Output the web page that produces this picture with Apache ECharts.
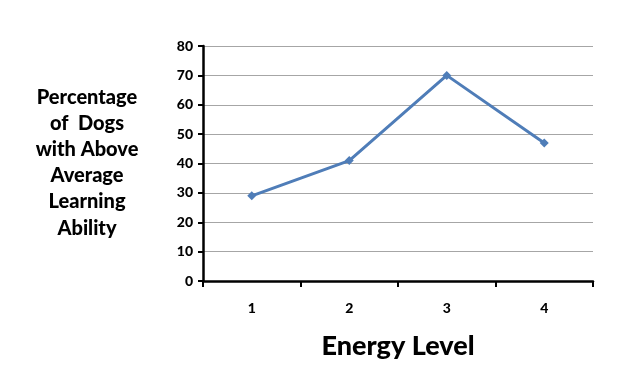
<!DOCTYPE html>
<html><head><meta charset="utf-8">
<script src="https://cdn.jsdelivr.net/npm/echarts@6/dist/echarts.min.js"></script>
<style>html,body{margin:0;padding:0;background:#fff}#c{width:639px;height:386px}</style>
</head><body><div id="c"></div>
<script>
const categories = ['1', '2', '3', '4'];
const values = [29, 41, 70, 47];
const yTitle = 'Percentage\nof  Dogs\nwith Above\nAverage\nLearning\nAbility';
const xTitle = 'Energy Level';
const FONT = 'Lato';
const chart = echarts.init(document.getElementById('c'));
chart.setOption({
  animation: false,
  backgroundColor: '#fff',
  grid: {left: 203, right: 46, top: 46, bottom: 105},
  xAxis: {
    type: 'category', data: categories, boundaryGap: true,
    axisLine: {lineStyle: {color: '#000', width: 2.5}},
    axisTick: {show: true, length: 6, lineStyle: {color: '#000', width: 2}},
    axisLabel: {color: '#000', fontFamily: FONT, fontWeight: 900, fontSize: 14, margin: 20},
    name: xTitle, nameLocation: 'middle', nameGap: 52,
    nameTextStyle: {color: '#000', fontFamily: FONT, fontWeight: 900, fontSize: 27}
  },
  yAxis: {
    type: 'value', min: 0, max: 80, interval: 10,
    axisLine: {show: true, lineStyle: {color: '#000', width: 2.5}},
    axisTick: {show: true, length: 5, lineStyle: {color: '#000', width: 2}},
    axisLabel: {color: '#000', fontFamily: FONT, fontWeight: 900, fontSize: 14, margin: 10},
    splitLine: {lineStyle: {color: '#a6a6a6', width: 1}}
  },
  graphic: [{
    type: 'text', x: 87, y: 84,
    style: {text: yTitle, fill: '#000', fontFamily: FONT, fontWeight: 900, fontSize: 20,
      lineHeight: 26.2, align: 'center', textAlign: 'center'}
  }],
  series: [{
    type: 'line', data: values,
    symbol: 'diamond', symbolSize: 9,
    lineStyle: {color: '#4f7db8', width: 3},
    itemStyle: {color: '#4f7db8'}
  }]
});
</script></body></html>
